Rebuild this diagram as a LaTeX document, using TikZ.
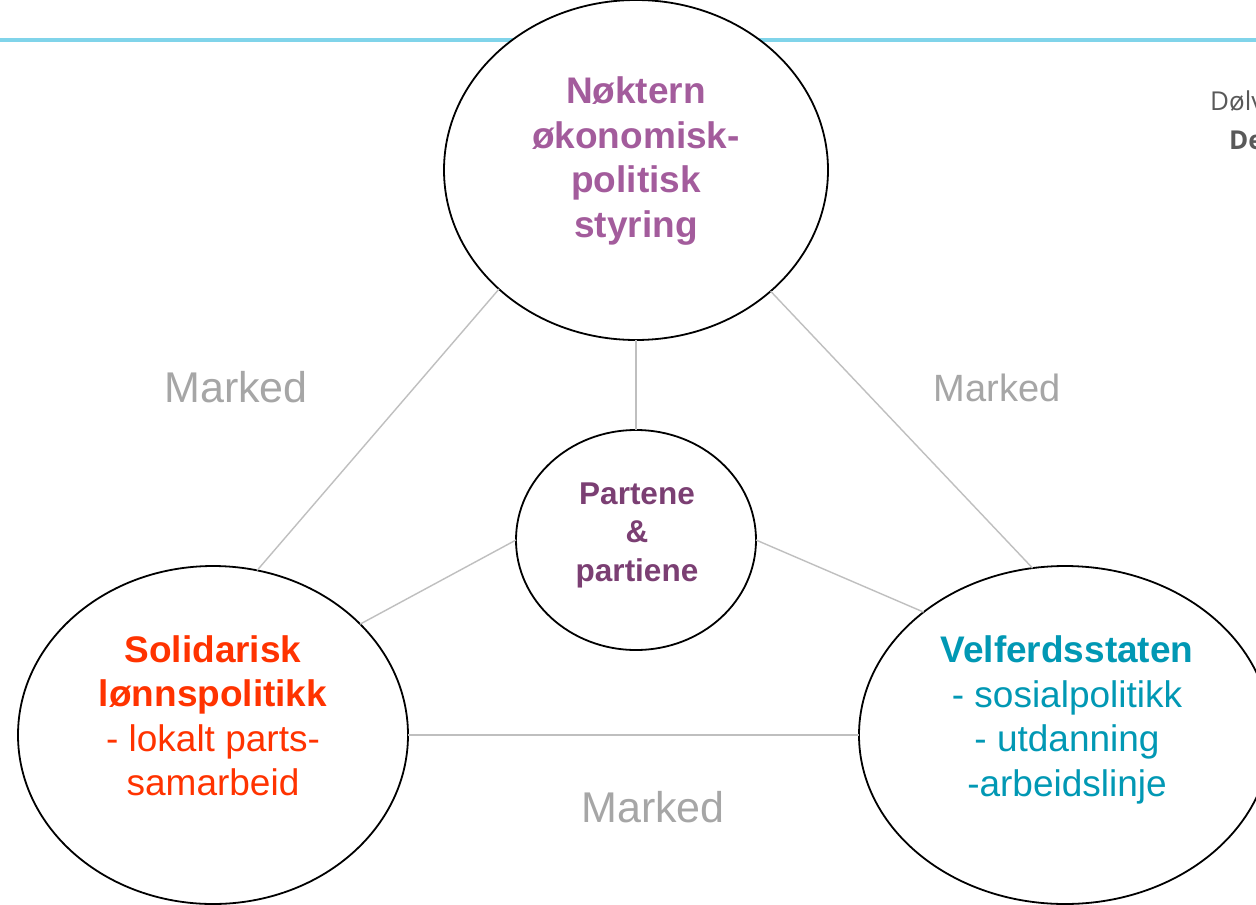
\documentclass[tikz,border=0pt]{standalone}
\usepackage{fontspec}
\setmainfont{Liberation Sans}
\newfontfamily\opensans{Open Sans}
\usetikzlibrary{shapes.geometric}
\definecolor{cyanline}{HTML}{80D4EA}
\definecolor{linkgray}{HTML}{BFBFBF}
\definecolor{markgray}{HTML}{A6A6A6}
\definecolor{toppurple}{HTML}{A35C9C}
\definecolor{midpurple}{HTML}{7B3F73}
\definecolor{solred}{HTML}{FF3300}
\definecolor{veltea}{HTML}{0198B4}
\definecolor{authgray}{HTML}{595959}
\tikzset{
  bubble/.style={draw=black, line width=1.8pt, fill=white, ellipse, inner sep=0pt, outer sep=0pt},
  link/.style={draw=linkgray, line width=1.4pt},
  marklabel/.style={text=markgray, inner sep=0pt},
  bigtext/.style={align=center, inner sep=0pt, font=\fontsize{37}{44.5}\selectfont},
}
\begin{document}
\begin{tikzpicture}[x=1pt,y=-1pt]
\useasboundingbox (0,0) rectangle (1256,905);
\clip (0,0) rectangle (1256,905);
\fill[white] (0,0) rectangle (1256,905);
% cyan rule
\coordinate (ruleL) at (0,40);
\coordinate (ruleR) at (1256,40);
\draw[cyanline, line width=4pt] (ruleL) -- (ruleR);
% ellipses
\node[bubble, minimum width=384pt, minimum height=340pt] (top) at (636,170) {};
\node[bubble, minimum width=390pt, minimum height=338pt] (left) at (213,735) {};
\node[bubble, minimum width=412pt, minimum height=338pt] (right) at (1065,735) {};
\node[bubble, minimum width=240pt, minimum height=220pt] (mid) at (636,540) {};
% connectors
\draw[link] (top.221.9) -- (left.75);
\draw[link] (top.318.1) -- (right.101.8);
\draw[link] (top.270) -- (mid.90);
\draw[link] (mid.180) -- (left.37.9);
\draw[link] (mid.0) -- (right.139.3);
\draw[link] (left.0) -- (right.180);
% texts
\node[bigtext, text=toppurple, font=\bfseries\fontsize{37}{44.5}\selectfont] (toptext) at (636,161) {Nøktern\\økonomisk-\\politisk\\styring};
\node[align=center, inner sep=0pt, text=midpurple, font=\bfseries\fontsize{31.5}{38.5}\selectfont] (midtext) at (637,535) {Partene\\\&\\partiene};
\node[bigtext, text=solred] (lefttext) at (213,716) {\textbf{Solidarisk}\\\textbf{lønnspolitikk}\\- lokalt parts-\\samarbeid};
\node[bigtext, text=veltea] (righttext) at (1067,720) {\textbf{Velferdsstaten}\\- sosialpolitikk\\- utdanning\\-arbeidslinje};
\node[marklabel, font=\fontsize{43}{48}\selectfont] (m1) at (236,387) {Marked};
\node[marklabel, font=\fontsize{38}{43}\selectfont] (m2) at (997,388) {Marked};
\node[marklabel, font=\fontsize{43}{48}\selectfont] (m3) at (653,807) {Marked};
\node[anchor=west, inner sep=0pt, text=authgray, font=\opensans\fontsize{26}{30}\selectfont] (auth1) at (1210,101) {Dølv};
\node[anchor=west, inner sep=0pt, text=authgray, font=\opensans\bfseries\fontsize{26}{30}\selectfont] (auth2) at (1229,140) {De};
\end{tikzpicture}
\end{document}
